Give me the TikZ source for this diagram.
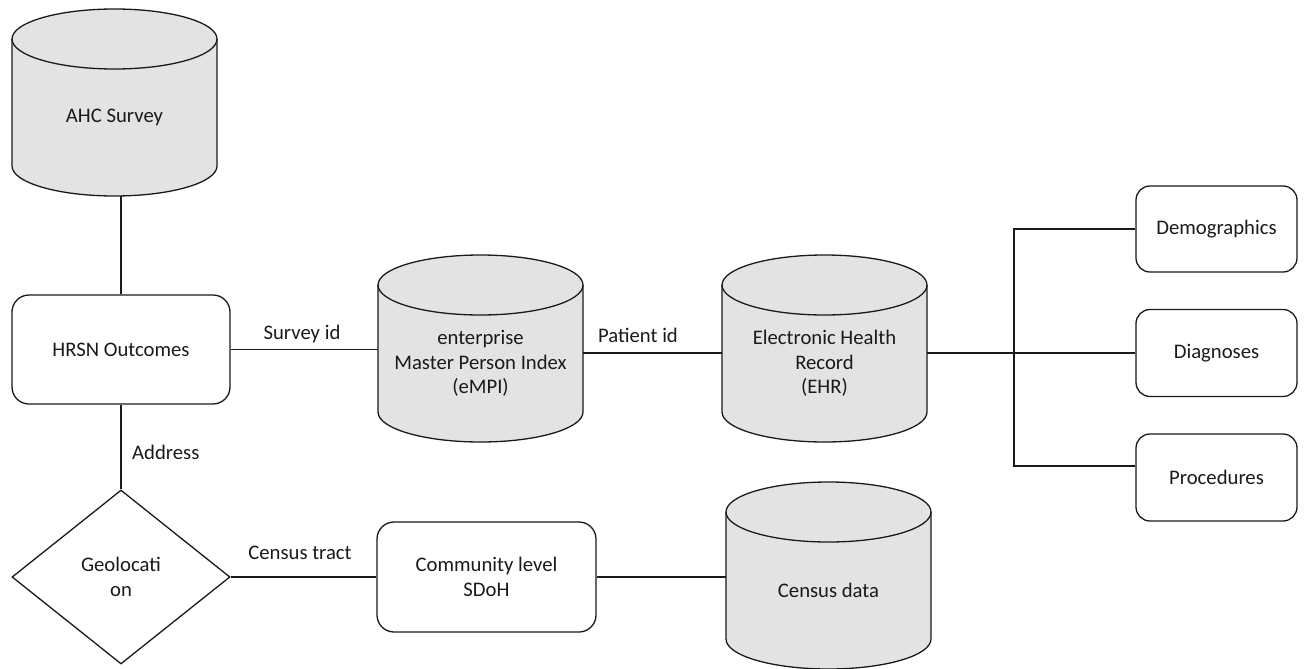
\documentclass[tikz,border=0pt]{standalone}
\usepackage{fontspec}
\setmainfont{Carlito}
\usetikzlibrary{shapes.geometric,calc}
\definecolor{cylgray}{HTML}{E3E3E3}
\definecolor{inkc}{HTML}{1A1A1A}
\newcommand{\dgfont}{\fontsize{20.7}{24.5}\selectfont}
\tikzset{
  shapeline/.style={line width=1.3pt, draw=inkc},
  conn/.style={line width=1.3pt, draw=inkc},
  txt/.style={align=center, font=\dgfont, text=inkc, inner sep=0pt},
  lbl/.style={font=\dgfont, text=inkc, inner sep=0pt},
  cylbound/.style={rectangle, draw=none, minimum width=205pt, minimum height=187pt, inner sep=0pt},
  rbox/.style={rectangle, draw=inkc, line width=1.3pt, align=center, font=\dgfont, text=inkc, inner sep=0pt},
  geobox/.style={diamond, draw=inkc, line width=1.3pt, align=center, font=\dgfont, text=inkc, inner sep=0pt, aspect=1.25},
}
% #1 name, #2 centre x, #3 top y (pixels, downwards), #4 text
\newcommand{\dbcyl}[4]{%
  \fill[cylgray] ({#2-102.5},{-(#3+30)}) -- ({#2-102.5},{-(#3+157)})
     arc[start angle=180,end angle=360,x radius=102.5pt,y radius=30pt]
     -- ({#2+102.5},{-(#3+30)})
     arc[start angle=0,end angle=180,x radius=102.5pt,y radius=30pt] -- cycle;
  \draw[shapeline] ({#2-102.5},{-(#3+30)}) -- ({#2-102.5},{-(#3+157)})
     arc[start angle=180,end angle=360,x radius=102.5pt,y radius=30pt]
     -- ({#2+102.5},{-(#3+30)});
  \draw[shapeline] (#2,{-(#3+30)}) ellipse[x radius=102.5pt,y radius=30pt];
  \node[cylbound] (#1) at (#2,{-(#3+93.5)}) {};
  \node[txt] (#1-t) at (#2,{-(#3+108.5)}) {#4};
}
\begin{document}
\begin{tikzpicture}[x=1pt,y=1pt]
\useasboundingbox (0,0) rectangle (1306,-669);
\fill[white] (0,0) rectangle (1306,-669);

% cylinders
\dbcyl{ahc}{114.5}{9}{AHC Survey}
\dbcyl{empi}{480.5}{255}{enterprise\\Master Person Index\\(eMPI)}
\dbcyl{ehr}{824.5}{255}{Electronic Health\\Record\\(EHR)}
\dbcyl{census}{828.5}{482}{Census data}

% boxes
\node[rbox, rounded corners=17pt, minimum width=218pt, minimum height=109pt] (hrsn) at (121,-349.5) {HRSN Outcomes};
\node[rbox, rounded corners=17pt, minimum width=219pt, minimum height=110pt] (comm) at (486.5,-577) {Community level\\SDoH};
\node[rbox, rounded corners=14pt, minimum width=161pt, minimum height=86pt] (demo) at (1216.5,-229) {Demographics};
\node[rbox, rounded corners=14pt, minimum width=161pt, minimum height=87pt] (diag) at (1216.5,-353) {Diagnoses};
\node[rbox, rounded corners=14pt, minimum width=161pt, minimum height=87pt] (proc) at (1216.5,-477.5) {Procedures};
\node[geobox, minimum width=218pt, minimum height=174pt] (geo) at (121,-577) {Geolocati\\on};

% connectors
\draw[conn] (hrsn.north) -- (hrsn.north |- ahc.south);
\draw[conn] (hrsn.east) -- (hrsn.east -| empi.west);
\draw[conn] (empi.east |- diag.west) -- (ehr.west |- diag.west);
\coordinate (j) at (1014,-353);
\coordinate (pin) at ([yshift=11.5pt]proc.west);
\draw[conn] (ehr.east |- diag.west) -- (diag.west);
\draw[conn] (demo.west) -| (j |- pin) -- (pin);
\draw[conn] (hrsn.south) -- (geo.north);
\draw[conn] (geo.east) -- (comm.west);
\draw[conn] (comm.east) -- (comm.east -| census.west);

% labels
\node[lbl] (lsurvey) at (302,-334) {Survey id};
\node[lbl] (lpatient) at (638,-335) {Patient id};
\node[lbl, anchor=west] (laddress) at (132,-452) {Address};
\node[lbl] (ltract) at (300,-553) {Census tract};
\end{tikzpicture}
\end{document}
